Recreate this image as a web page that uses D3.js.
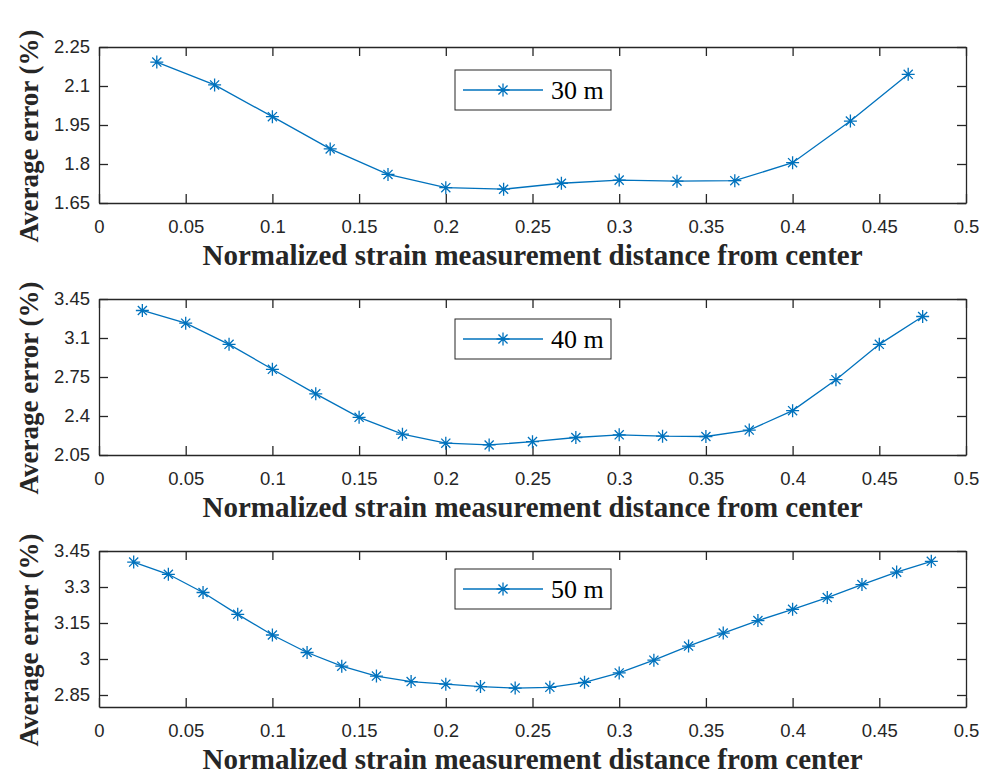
<!DOCTYPE html>
<html>
<head>
<meta charset="utf-8">
<title>Average error</title>
<script src="https://d3js.org/d3.v7.min.js"></script>
<style>
body { margin: 0; background: #fff; }
.tick text { font-family: "Liberation Sans", Arial, sans-serif; font-size: 18.5px; fill: #262626; }
.axis path, .axis line { stroke: #262626; stroke-width: 1.3; }
.lab { font-family: "Liberation Serif", "Times New Roman", serif; font-weight: bold; font-size: 29px; fill: #262626; }
.ylab { font-size: 27px; }
.leg text { font-family: "Liberation Serif", "Times New Roman", serif; font-size: 26px; fill: #000; }
</style>
</head>
<body>
<svg width="991" height="776"></svg>
<script>

// data
var names = ["30 m", "40 m", "50 m"];
var steps = [30, 40, 50];   // x = k / step
var err30 = [2.192, 2.104, 1.982, 1.858, 1.760, 1.709, 1.703, 1.726, 1.738, 1.734, 1.736, 1.805, 1.965, 2.145];
var err40 = [3.347, 3.233, 3.043, 2.819, 2.599, 2.388, 2.237, 2.156, 2.140, 2.170, 2.207, 2.231, 2.219, 2.216,
             2.274, 2.448, 2.726, 3.043, 3.293];
var err50 = [3.404, 3.353, 3.277, 3.186, 3.100, 3.027, 2.970, 2.929, 2.906, 2.895, 2.885, 2.879, 2.882, 2.903,
             2.942, 2.995, 3.054, 3.108, 3.160, 3.207, 3.256, 3.310, 3.362, 3.407];
var yDomains = [[1.65, 2.25], [2.05, 3.45], [2.8, 3.45]];
var yTicks = [[1.65, 1.8, 1.95, 2.1, 2.25], [2.05, 2.4, 2.75, 3.1, 3.45], [2.85, 3, 3.15, 3.3, 3.45]];
var xTicks = [0, 0.05, 0.1, 0.15, 0.2, 0.25, 0.3, 0.35, 0.4, 0.45, 0.5];
var series = [err30, err40, err50];

var svg = d3.select("svg"),
    left = 99, right = 966, h = 156,
    tops = [47, 299, 551],
    legTop = [23, 20, 18],
    blue = "#0072BD";

var x = d3.scaleLinear().domain([0, 0.5]).range([left, right]);

// asterisk marker
function star(s) {
  var d = s * 0.7;
  return "M" + (-s) + ",0H" + s + "M0," + (-s) + "V" + s +
    "M" + (-d) + "," + (-d) + "L" + d + "," + d + "M" + (-d) + "," + d + "L" + d + "," + (-d);
}

series.forEach(function(vals, i) {
  var top = tops[i];
  var y = d3.scaleLinear().domain(yDomains[i]).range([top + h, top]);
  var fmt = function(d) { return String(+d.toFixed(2)); };

  svg.append("g").attr("class", "axis")
    .attr("transform", "translate(0," + (top + h) + ")")
    .call(d3.axisBottom(x).tickValues(xTicks).tickFormat(fmt).tickSizeInner(-9).tickSizeOuter(0).tickPadding(17));
  svg.append("g").attr("class", "axis")
    .attr("transform", "translate(0," + top + ")")
    .call(d3.axisTop(x).tickValues(xTicks).tickFormat("").tickSizeInner(-9).tickSizeOuter(0));
  svg.append("g").attr("class", "axis")
    .attr("transform", "translate(" + left + ",0)")
    .call(d3.axisLeft(y).tickValues(yTicks[i]).tickFormat(fmt).tickSizeInner(-9).tickSizeOuter(0).tickPadding(9));
  svg.append("g").attr("class", "axis")
    .attr("transform", "translate(" + right + ",0)")
    .call(d3.axisRight(y).tickValues(yTicks[i]).tickFormat("").tickSizeInner(-9).tickSizeOuter(0));
  svg.selectAll(".axis .domain").attr("fill", "none");

  var pts = vals.map(function(v, k) { return [(k + 1) / steps[i], v]; });

  svg.append("path")
    .datum(pts)
    .attr("fill", "none")
    .attr("stroke", blue)
    .attr("stroke-width", 1.3)
    .attr("d", d3.line().x(function(d) { return x(d[0]); }).y(function(d) { return y(d[1]); }));

  svg.append("g").selectAll("path")
    .data(pts)
    .enter().append("path")
      .attr("transform", function(d) { return "translate(" + x(d[0]) + "," + y(d[1]) + ")"; })
      .attr("d", star(6.5))
      .attr("stroke", blue)
      .attr("stroke-width", 1.3)
      .attr("fill", "none");

  // labels
  svg.append("text").attr("class", "lab")
    .attr("x", (left + right) / 2).attr("y", top + h + 62)
    .attr("text-anchor", "middle")
    .text("Normalized strain measurement distance from center");
  svg.append("text").attr("class", "lab ylab")
    .attr("transform", "translate(38," + (top + h / 2 + 11) + ") rotate(-90)")
    .attr("text-anchor", "middle")
    .text("Average error (%)");

  // legend
  var leg = svg.append("g").attr("class", "leg")
    .attr("transform", "translate(455," + (top + legTop[i]) + ")");
  leg.append("rect").attr("width", 156).attr("height", 40)
    .attr("fill", "#fff").attr("stroke", "#262626").attr("stroke-width", 1);
  leg.append("line").attr("x1", 8).attr("x2", 88).attr("y1", 20).attr("y2", 20)
    .attr("stroke", blue).attr("stroke-width", 1.3);
  leg.append("path").attr("transform", "translate(48,20)").attr("d", star(6.5))
    .attr("stroke", blue).attr("stroke-width", 1.3).attr("fill", "none");
  leg.append("text").attr("x", 96).attr("y", 29).text(names[i]);
});

</script>
</body>
</html>
